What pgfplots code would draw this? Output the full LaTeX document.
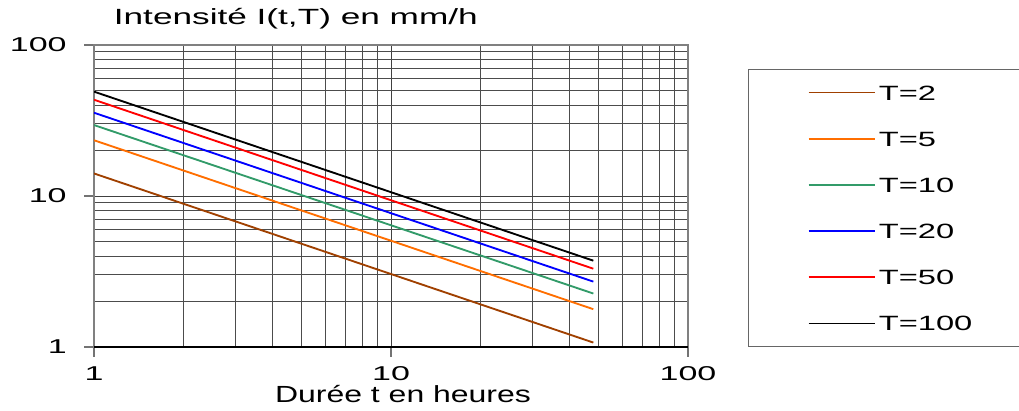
\documentclass[border=0pt]{standalone}
\usepackage{fontspec}
\setmainfont[FakeStretch=1.45]{Liberation Sans}
\newfontfamily\tickfam[FakeStretch=1.7]{Liberation Sans}
\newfontfamily\legfam[FakeStretch=1.58]{Liberation Sans}
\newfontfamily\titfam[FakeStretch=1.6]{Liberation Sans}
\newfontfamily\xlabfam[FakeStretch=1.37]{Liberation Sans}
\usepackage{pgfplots}
\pgfplotsset{compat=1.18}
\definecolor{cT2}{RGB}{160,64,0}
\definecolor{cT5}{RGB}{255,110,0}
\definecolor{cT10}{RGB}{50,155,105}
\definecolor{cT20}{RGB}{0,0,255}
\definecolor{cT50}{RGB}{255,0,0}
\definecolor{cT100}{RGB}{0,0,0}
\newcommand{\tickfont}{\tickfam\fontsize{15pt}{18pt}\selectfont}
\newcommand{\legfont}{\legfam\fontsize{15.5pt}{18pt}\selectfont}
\newcommand{\titlefont}{\titfam\fontsize{16.5pt}{19pt}\selectfont}
\newcommand{\xlabfont}{\xlabfam\fontsize{17.5pt}{20pt}\selectfont}

\begin{document}
\begin{tikzpicture}
\path[use as bounding box] (0,0) rectangle (764.25pt,307.5pt);
\begin{axis}[
    at={(70.5pt,47.25pt)}, anchor=south west,
    scale only axis,
    width=445.5pt, height=226.5pt,
    xmode=log, ymode=log,
    xmin=1, xmax=100, ymin=1, ymax=100,
    xtick={1,10,100}, xticklabels={1,10,100},
    ytick={1,10,100}, yticklabels={1,10,100},
    tick pos=left,
    tick align=outside,
    major tick length=7.5pt, minor tick length=0pt,
    tick style={draw=black!55, line width=0.8pt},
    grid=both,
    major grid style={draw=black!75, line width=0.7pt},
    minor grid style={draw=black!70, line width=0.7pt},
    axis line style={draw=black!50, line width=1.6pt},
    ticklabel style={font=\tickfont},
    xticklabel style={yshift=-4pt},
    yticklabel style={xshift=-9.5pt},
    title={Intensité I(t,T) en mm/h},
    title style={font=\titlefont, at={(axis description cs:0.033,1.04)}, anchor=base west, inner sep=0pt},
    xlabel={Durée t en heures},
    xlabel style={font=\xlabfont, at={(axis description cs:0.5,0)}, anchor=base, xshift=9pt, yshift=-41.25pt, inner sep=0pt},
    legend cell align=left,
    legend image code/.code={\draw[#1, line width=1.2pt] (0pt,0pt) -- (50pt,0pt);},
    legend style={at={(rel axis cs:1.101,0.9205)}, anchor=north west,
        draw=black!60, line width=0.9pt, fill=white,
        inner xsep=44.5pt, inner ysep=0pt, row sep=0pt,
        font=\legfont,
        nodes={minimum height=34.6pt, text height=11pt, text depth=0pt, inner ysep=0pt}},
]
\addplot[cT2, line width=1.4pt] coordinates {(1,14.1) (48,1.07)};
\addlegendentry{T=2}
\addplot[cT5, line width=1.4pt] coordinates {(1,23.4) (48,1.78)};
\addlegendentry{T=5}
\addplot[cT10, line width=1.4pt] coordinates {(1,29.5) (48,2.26)};
\addlegendentry{T=10}
\addplot[cT20, line width=1.4pt] coordinates {(1,35.6) (48,2.71)};
\addlegendentry{T=20}
\addplot[cT50, line width=1.4pt] coordinates {(1,43.4) (48,3.30)};
\addlegendentry{T=50}
\addplot[cT100, line width=1.4pt] coordinates {(1,49.1) (48,3.73)};
\addlegendentry{T=100}
\draw[black, line width=1.2pt] (rel axis cs:0,0) -- (rel axis cs:1,0);
\end{axis}
\end{tikzpicture}
\end{document}
